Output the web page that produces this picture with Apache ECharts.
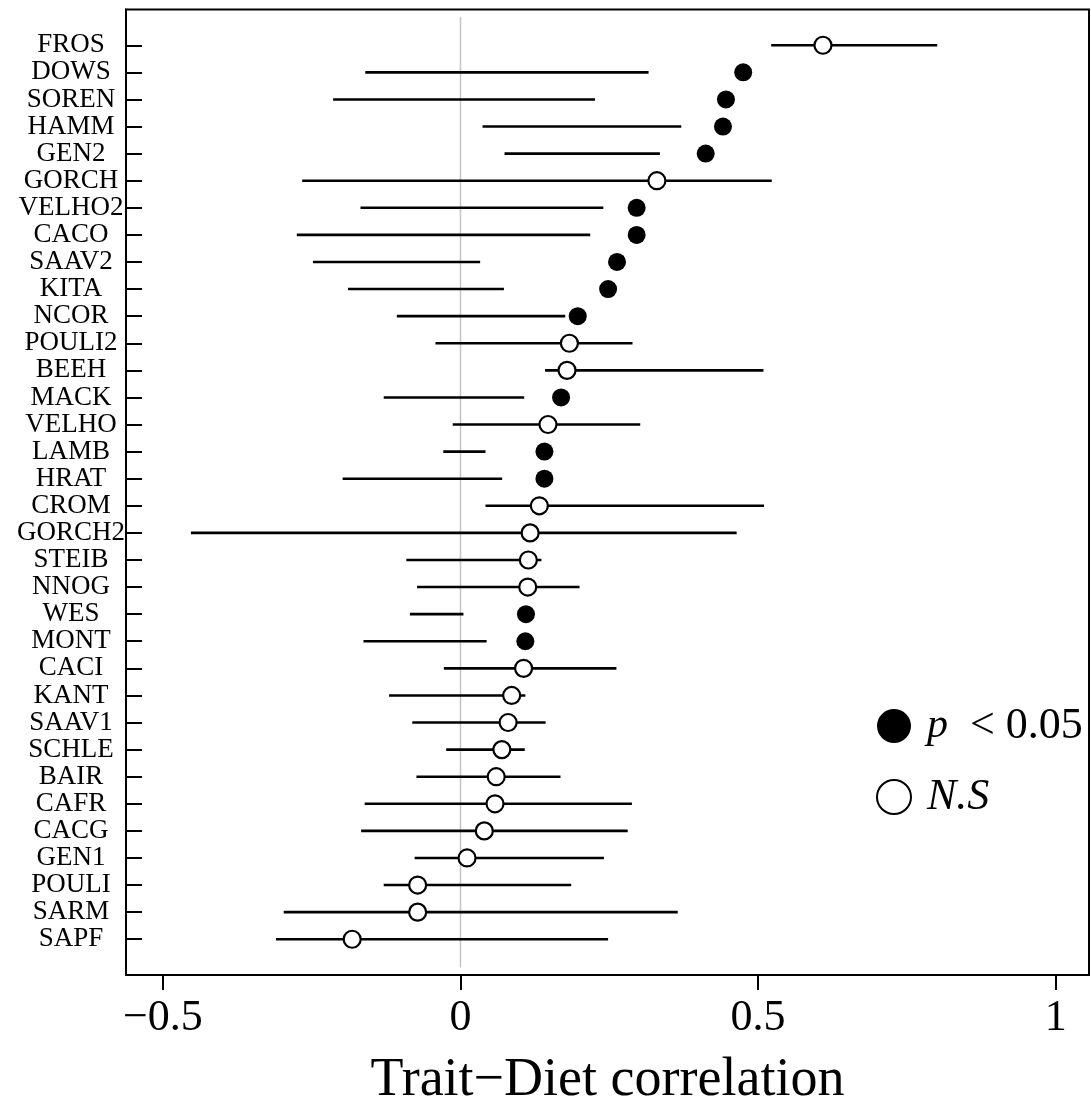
<!DOCTYPE html>
<html>
<head>
<meta charset="utf-8">
<script src="https://cdn.jsdelivr.net/npm/echarts@6/dist/echarts.min.js"></script>
<style>
html,body{margin:0;padding:0;background:#fff;}
#chart{width:1091px;height:1106px;}
</style>
</head>
<body>
<div id="chart"></div>
<script>
// ---- data ----
var sites = ['FROS','DOWS','SOREN','HAMM','GEN2','GORCH','VELHO2','CACO','SAAV2','KITA','NCOR','POULI2','BEEH','MACK','VELHO','LAMB','HRAT','CROM','GORCH2','STEIB','NNOG','WES','MONT','CACI','KANT','SAAV1','SCHLE','BAIR','CAFR','CACG','GEN1','POULI','SARM','SAPF'];
var estimate = [0.609,0.475,0.446,0.441,0.412,0.330,0.296,0.296,0.263,0.248,0.197,0.183,0.179,0.169,0.147,0.141,0.141,0.1325,0.117,0.114,0.113,0.110,0.109,0.106,0.086,0.080,0.0695,0.060,0.058,0.040,0.011,-0.072,-0.072,-0.182];
var lower = [0.522,-0.160,-0.214,0.037,0.074,-0.266,-0.168,-0.275,-0.248,-0.189,-0.107,-0.042,0.142,-0.129,-0.013,-0.029,-0.198,0.042,-0.453,-0.091,-0.073,-0.085,-0.163,-0.028,-0.120,-0.081,-0.024,-0.074,-0.161,-0.167,-0.077,-0.129,-0.297,-0.310];
var upper = [0.801,0.316,0.226,0.371,0.335,0.523,0.240,0.218,0.033,0.073,0.176,0.289,0.509,0.107,0.302,0.042,0.070,0.510,0.464,0.136,0.200,0.005,0.044,0.262,0.109,0.143,0.108,0.168,0.288,0.281,0.241,0.186,0.365,0.248];
var significant = [0,1,1,1,1,0,1,1,1,1,1,0,0,1,0,1,1,0,0,0,0,1,1,0,0,0,0,0,0,0,0,0,0,0];
var xTickValues = [-0.5, 0, 0.5, 1];
var xTickLabels = ['\u22120.5', '0', '0.5', '1'];
var xTitle = 'Trait\u2212Diet correlation';
var sigName = 'p < 0.05';
var nsName = 'N.S';

// ---- build ----
var FONT = '"Liberation Serif", "Times New Roman", "DejaVu Serif", serif';
var rowIdx = sites.map(function (s, i) { return i; });
var barData = rowIdx.map(function (i) { return [i, lower[i], upper[i]]; });
var sigData = [], nsData = [];
rowIdx.forEach(function (i) {
  if (significant[i]) sigData.push([estimate[i], i]);
  else nsData.push([estimate[i], i]);
});

var chart = echarts.init(document.getElementById('chart'), null, {renderer: 'canvas'});
chart.setOption({
  backgroundColor: '#fff',
  animation: false,
  grid: {left: 126, right: 2, top: 9.5, bottom: 131, containLabel: false, outerBoundsMode: 'none',
    show: true, borderColor: '#000', borderWidth: 2, backgroundColor: 'transparent'},
  legend: {
    data: [sigName, nsName],
    orient: 'vertical',
    left: 876, top: 704, padding: 0,
    itemWidth: 34, itemHeight: 34, itemGap: 27,
    icon: 'circle',
    selectedMode: false,
    textStyle: {fontFamily: FONT, fontSize: 42, color: '#000', lineHeight: 40,
      rich: {
        s: {width: 11, lineHeight: 40},
        i: {fontFamily: FONT, fontSize: 42, fontStyle: 'italic', color: '#000', lineHeight: 40},
        n: {fontFamily: FONT, fontSize: 44, color: '#000', lineHeight: 40},
        ni: {fontFamily: FONT, fontSize: 44, fontStyle: 'italic', color: '#000', lineHeight: 40}
      }},
    formatter: function (name) {
      return name === sigName ? '{s|}{i|p}{n|  < 0.05}' : '{s|}{ni|N.S}';
    }
  },
  xAxis: {
    type: 'value', min: -0.562, max: 1.056,
    name: xTitle, nameLocation: 'middle', nameGap: 79,
    nameTextStyle: {fontFamily: FONT, fontSize: 54, color: '#000'},
    axisLine: {show: true, onZero: false, lineStyle: {color: '#000', width: 2}},
    axisTick: {show: true, customValues: xTickValues, length: 15, lineStyle: {color: '#000', width: 2}},
    axisLabel: {show: true, customValues: xTickValues, margin: 21, fontFamily: FONT, fontSize: 44, color: '#000',
      formatter: function (v) {
        for (var k = 0; k < xTickValues.length; k++) if (Math.abs(v - xTickValues[k]) < 1e-9) return xTickLabels[k];
        return '';
      }},
    splitLine: {show: false}
  },
  yAxis: {
    type: 'value', inverse: true, min: -1.32, max: 34.32,
    axisLine: {show: true, onZero: false, lineStyle: {color: '#000', width: 2}},
    axisTick: {show: true, inside: true, customValues: rowIdx, length: 16, lineStyle: {color: '#000', width: 2}},
    axisLabel: {show: true, customValues: rowIdx, margin: 55, align: 'center', fontFamily: FONT, fontSize: 27, color: '#000',
      formatter: function (v) { return sites[Math.round(v)] || ''; }},
    splitLine: {show: false}
  },
  series: [
    {
      name: 'zero', type: 'line', silent: true, symbol: 'none', z: 1,
      data: [[0, -1.04], [0, 34.04]],
      lineStyle: {color: '#c4c4c4', width: 1.5}
    },
    {
      name: 'ci', type: 'custom', silent: true, z: 2,
      data: barData,
      encode: {x: [1, 2], y: 0},
      renderItem: function (params, api) {
        var a = api.coord([api.value(1), api.value(0)]);
        var b = api.coord([api.value(2), api.value(0)]);
        return {type: 'line', shape: {x1: a[0], y1: a[1], x2: b[0], y2: b[1]},
          style: {stroke: '#000', lineWidth: 2.6}};
      }
    },
    {
      name: sigName, type: 'scatter', z: 3, symbol: 'circle', symbolSize: 18,
      data: sigData,
      itemStyle: {color: '#000', opacity: 1}
    },
    {
      name: nsName, type: 'scatter', z: 3, symbol: 'circle', symbolSize: 17,
      data: nsData,
      itemStyle: {color: '#fff', borderColor: '#000', borderWidth: 2.2, opacity: 1}
    }
  ]
});
</script>
</body>
</html>
